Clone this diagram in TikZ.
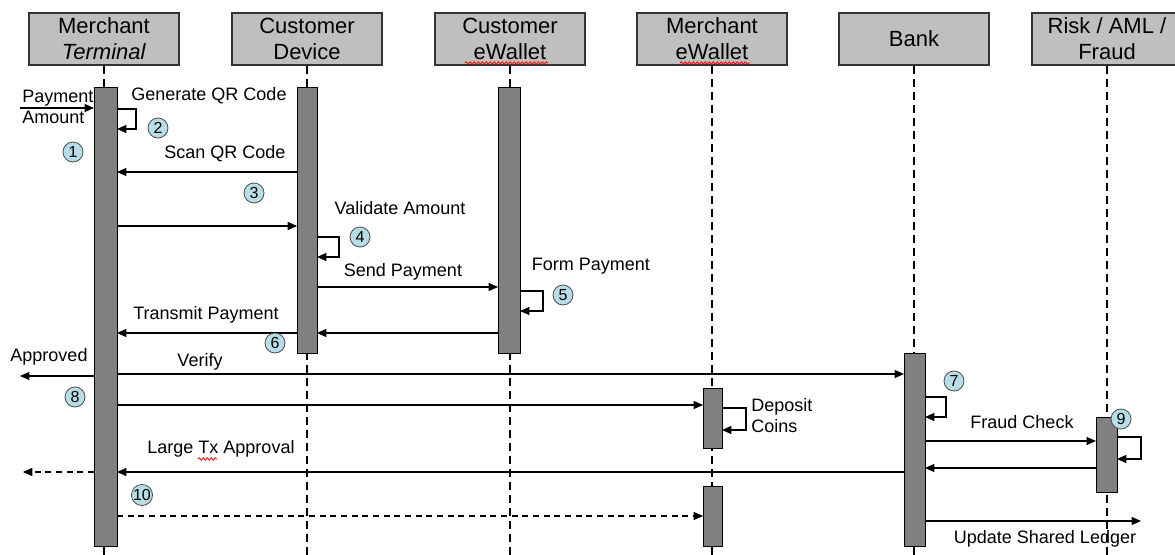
\documentclass[tikz,border=0pt]{standalone}
\usepackage{fontspec}
\setmainfont{Liberation Sans}
\usetikzlibrary{arrows.meta,fit,decorations.pathmorphing}
\definecolor{numblue}{HTML}{B7DEE8}

\begin{document}
\begin{tikzpicture}[x=0.75pt,y=-0.75pt,
  hdr/.style={draw=black!80,line width=1pt,fill=black!25,minimum width=112.5pt,minimum height=39pt,align=center,inner sep=0pt,font=\fontsize{16.5}{19.5}\selectfont},
  actbar/.style={draw=black,fill=black!50,line width=0.6pt,inner sep=0pt,outer sep=0pt},
  life/.style={line width=0.8pt,dash pattern=on 6pt off 3.75pt},
  msg/.style={line width=0.8pt,-{Triangle[length=7pt,width=6pt]}},
  rmsg/.style={msg,dash pattern=on 4.5pt off 3.5pt},
  lbl/.style={font=\fontsize{13.5}{15.75}\selectfont,inner sep=0pt},
  numcirc/.style={circle,draw=black!70,fill=numblue,line width=0.6pt,minimum size=15pt,inner sep=0pt,font=\fontsize{12}{12}\selectfont},
  squig/.style={red,line width=0.6pt,decorate,decoration={snake,amplitude=0.9pt,segment length=3pt}}]
 \clip (0,0) rectangle (1175,554); % 画面の範囲

 % 参加者
 \node[hdr] (mt) at (104,39) {Merchant\\\textit{Terminal}};
 \node[hdr] (cd) at (307,39) {Customer\\Device};
 \node[hdr] (cw) at (510,39) {Customer\\eWallet};
 \node[hdr] (mw) at (712,39) {Merchant\\eWallet};
 \node[hdr] (bk) at (914,39) {Bank};
 \node[hdr] (rk) at (1107,39) {Risk / AML /\\Fraud};
 \draw[squig] (465,63) -- (548,63);
 \draw[squig] (680,63) -- (750,63);

 % ライフライン
 \foreach \h in {mt,cd,cw,mw,bk,rk}
  \draw[life] (\h.south) -- ++(0,490);

 % 活性化バー
 \node[actbar,fit={(94,87) (117,546)}] (mtbar) {};
 \node[actbar,fit={(297,87) (317,353)}] (cdbar) {};
 \node[actbar,fit={(498,87) (520,353)}] (cwbar) {};
 \node[actbar,fit={(703,388) (722,448)}] (mwbarA) {};
 \node[actbar,fit={(703,486) (722,546)}] (mwbarB) {};
 \node[actbar,fit={(904,353) (925,546)}] (bkbar) {};
 \node[actbar,fit={(1096,417) (1117,492)}] (rkbar) {};

 \coordinate (inL) at (20,108); % 入力の左端
 \coordinate (apL) at (20,376); % Approved の左端
 \coordinate (ltL) at (23,472); % 点線の左端
 \coordinate (udR) at (1141,521); % 台帳更新の右端

 % メッセージ
 \draw[msg] (inL) -- (mtbar.west |- inL);
 \draw[msg] (mtbar.east |- 0,109) -- (136,109) -- (136,129) -- (mtbar.east |- 0,129);
 \draw[msg] (cdbar.west |- 0,172) -- (mtbar.east |- 0,172);
 \draw[msg] (mtbar.east |- 0,226) -- (cdbar.west |- 0,226);
 \draw[msg] (cdbar.east |- 0,237) -- (339,237) -- (339,257) -- (cdbar.east |- 0,257);
 \draw[msg] (cdbar.east |- 0,287) -- (cwbar.west |- 0,287);
 \draw[msg] (cwbar.east |- 0,291) -- (543,291) -- (543,311) -- (cwbar.east |- 0,311);
 \draw[msg] (cwbar.west |- 0,333) -- (cdbar.east |- 0,333);
 \draw[msg] (cdbar.west |- 0,333) -- (mtbar.east |- 0,333);
 \draw[msg] (mtbar.west |- apL) -- (apL);
 \draw[msg] (mtbar.east |- 0,374) -- (bkbar.west |- 0,374);
 \draw[msg] (mtbar.east |- 0,405) -- (mwbarA.west |- 0,405);
 \draw[msg] (mwbarA.east |- 0,408) -- (746,408) -- (746,430) -- (mwbarA.east |- 0,430);
 \draw[msg] (bkbar.east |- 0,397) -- (946,397) -- (946,417) -- (bkbar.east |- 0,417);
 \draw[msg] (bkbar.east |- 0,441) -- (rkbar.west |- 0,441);
 \draw[msg] (rkbar.east |- 0,437) -- (1141,437) -- (1141,459) -- (rkbar.east |- 0,459);
 \draw[msg] (rkbar.west |- 0,468) -- (bkbar.east |- 0,468);
 \draw[msg] (bkbar.west |- 0,472) -- (mtbar.east |- 0,472);
 \draw[rmsg] (mtbar.west |- ltL) -- (ltL);
 \draw[rmsg] (mtbar.east |- 0,516) -- (mwbarB.west |- 0,516);
 \draw[msg] (bkbar.east |- udR) -- (udR);

 % ラベル
 \node[lbl,align=left,anchor=west] (tPay) at (22,107) {Payment\\Amount};
 \node[lbl] (tGen) at (209,96) {Generate QR Code};
 \node[lbl] (tScan) at (225,154) {Scan QR Code};
 \node[lbl] (tVal) at (400,208) {Validate Amount};
 \node[lbl] (tSend) at (403,272) {Send Payment};
 \node[lbl] (tForm) at (591,266) {Form Payment};
 \node[lbl] (tTrans) at (206,315) {Transmit Payment};
 \node[lbl] (tAppr) at (49,357) {Approved};
 \node[lbl] (tVer) at (200,362) {Verify};
 \node[lbl] (tLarge) at (221,449) {Large Tx Approval};
 \node[lbl,align=left,anchor=west] (tDep) at (751,416) {Deposit\\Coins};
 \node[lbl] (tFraud) at (1022,422) {Fraud Check};
 \node[lbl] (tUpd) at (1045,539) {Update Shared Ledger};
 \draw[squig] (198,459) -- (217,459);

 % 番号
 \node[numcirc] (n1) at (73,152) {1};
 \node[numcirc] (n2) at (158,128) {2};
 \node[numcirc] (n3) at (254,193) {3};
 \node[numcirc] (n4) at (360,237) {4};
 \node[numcirc] (n5) at (563,295) {5};
 \node[numcirc] (n6) at (275,343) {6};
 \node[numcirc] (n7) at (954,381) {7};
 \node[numcirc] (n8) at (75,397) {8};
 \node[numcirc] (n9) at (1121,419) {9};
 \node[numcirc] (n10) at (142,495) {10};
\end{tikzpicture}
\end{document}
